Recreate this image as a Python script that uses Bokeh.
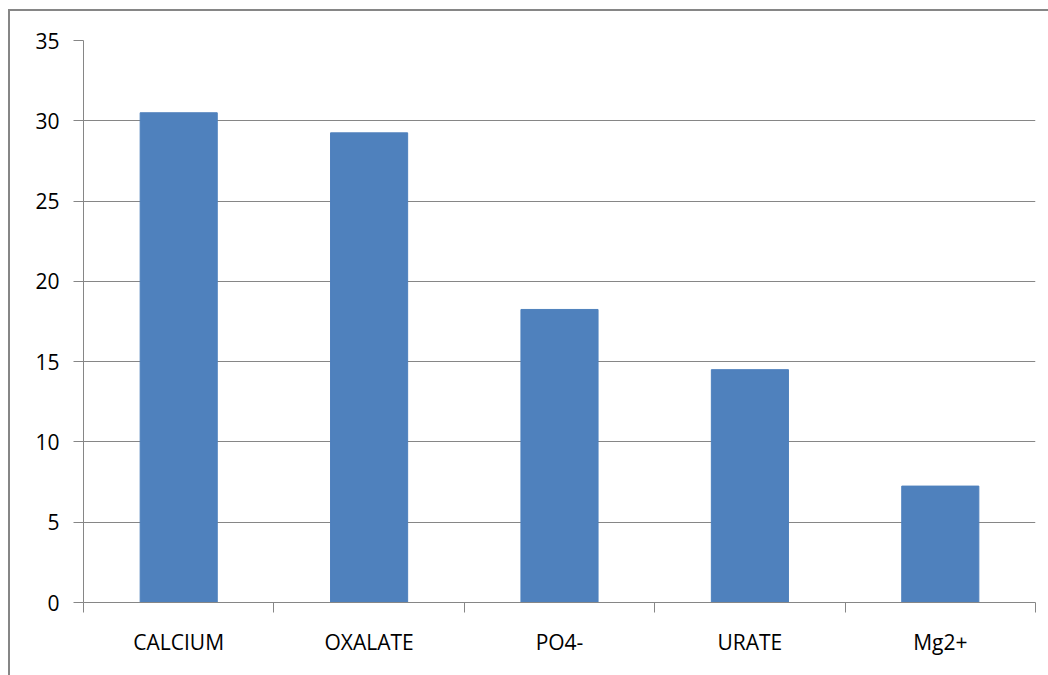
from bokeh.plotting import figure
from bokeh.models import FixedTicker, Range1d, ColumnDataSource
from bokeh.embed import file_html
from bokeh.resources import INLINE

categories = ["CALCIUM", "OXALATE", "PO4-", "URATE", "Mg2+"]
values = [30.5, 29.25, 18.25, 14.5, 7.25]
y_ticks = [0, 5, 10, 15, 20, 25, 30, 35]

centers = [i + 0.5 for i in range(len(categories))]
bounds = list(range(len(categories) + 1))

src = ColumnDataSource(dict(x=centers, top=values, cat=categories))

GRAY = "#868686"
FONT = "Open Sans"

p = figure(width=1040, height=666, output_backend="svg", toolbar_location=None,
           x_range=Range1d(0, len(categories)), y_range=Range1d(0, 35),
           min_border_left=73, min_border_right=15, min_border_top=29, min_border_bottom=75)
p.margin = (9, 0, 0, 8)
p.styles = {"border-top": "2px solid " + GRAY, "border-left": "2px solid " + GRAY}
p.outline_line_color = None
p.background_fill_color = "white"
p.border_fill_color = "white"

p.vbar(x="x", top="top", width=0.405, bottom=0, source=src, color="#4F81BD")

# y axis
p.yaxis.ticker = FixedTicker(ticks=y_ticks, minor_ticks=[])
p.yaxis.axis_line_color = GRAY
p.yaxis.major_tick_line_color = GRAY
p.yaxis.major_tick_out = 10
p.yaxis.major_tick_in = 0
p.yaxis.minor_tick_line_color = None
p.yaxis.major_label_text_font = FONT
p.yaxis.major_label_text_font_size = "21px"
p.yaxis.major_label_text_color = "black"
p.yaxis.major_label_standoff = 14

# x axis
p.xaxis.ticker = FixedTicker(ticks=centers, minor_ticks=bounds)
p.xaxis.major_label_overrides = {c: cat for c, cat in zip(centers, categories)}
p.xaxis.axis_line_color = GRAY
p.xaxis.major_tick_line_color = None
p.xaxis.major_tick_out = 0
p.xaxis.minor_tick_line_color = GRAY
p.xaxis.minor_tick_out = 10
p.xaxis.minor_tick_in = 0
p.xaxis.major_label_text_font = FONT
p.xaxis.major_label_text_font_size = "21px"
p.xaxis.major_label_text_color = "black"
p.xaxis.major_label_standoff = 15

p.xgrid.grid_line_color = None
p.ygrid.grid_line_color = GRAY
p.ygrid.ticker = FixedTicker(ticks=y_ticks)

open("out.html", "w").write(file_html(p, INLINE))
